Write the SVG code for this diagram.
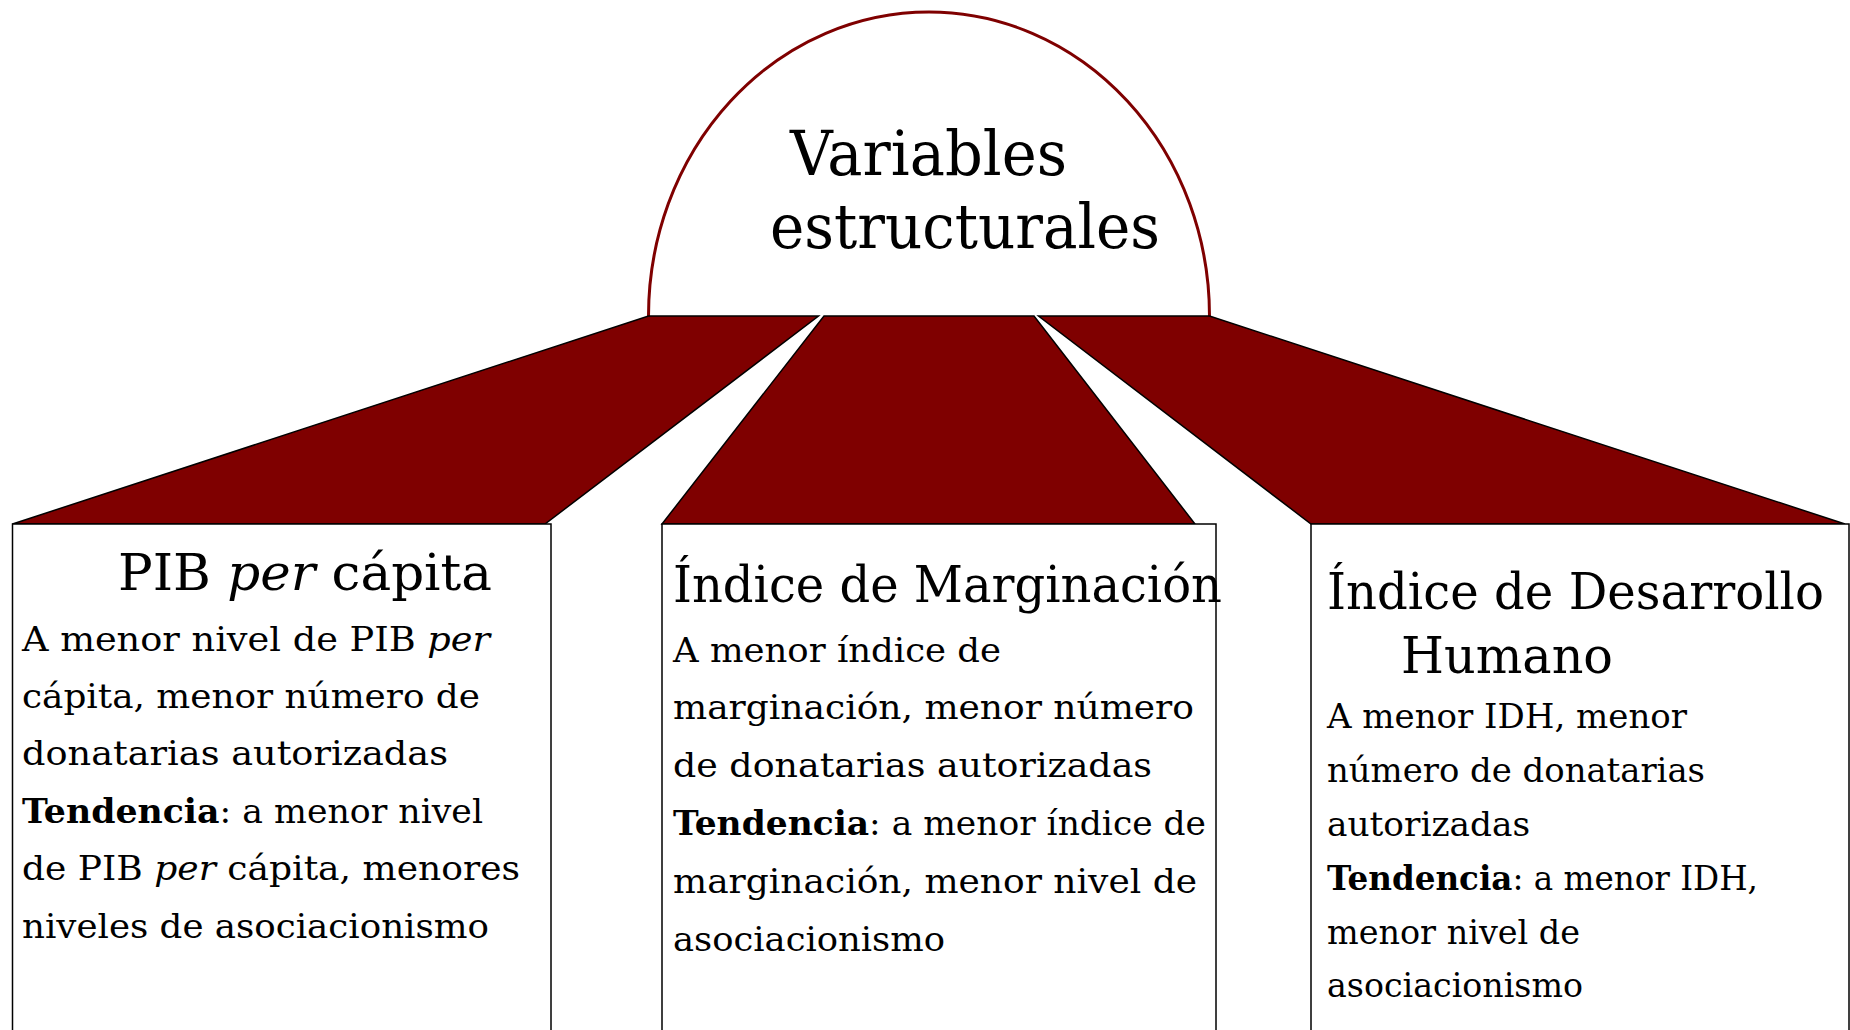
<svg xmlns="http://www.w3.org/2000/svg" width="1850" height="1030" viewBox="0 0 1850 1030">
<style>
.t{font-family:"DejaVu Serif","Liberation Serif",serif;fill:#000}
.ttl{font-size:50px}
.main{font-size:62px}
.b1{font-size:34px}
.b2{font-size:33px}
.box{fill:#fff;stroke:#000;stroke-width:1.5}
.trap{fill:#7f0000;stroke:#000;stroke-width:1.5;stroke-linejoin:miter}
.i{font-style:italic}
.bd{font-weight:bold}
</style>
<rect width="1850" height="1030" fill="#fff"/>
<g id="root">
<path d="M648.5,316 A280.5,304 0 0 1 1209.5,316" fill="#fff" stroke="#7f0000" stroke-width="3"/>
<text class="t main" x="790" y="175" textLength="277" lengthAdjust="spacingAndGlyphs">Variables</text>
<text class="t main" x="770" y="248" textLength="390" lengthAdjust="spacingAndGlyphs">estructurales</text>
</g>
<g id="connectors">
<polygon class="trap" points="648.5,316 818.5,316 545,524 12.5,524"/>
<polygon class="trap" points="824,316 1034,316 1195,524 662,524"/>
<polygon class="trap" points="1038.5,316 1209.5,316 1845,524 1311,524"/>
</g>
<g id="node-pib">
<rect class="box" x="12.5" y="524" width="538.5" height="560"/>
<text class="t ttl" x="118" y="590" textLength="374" lengthAdjust="spacingAndGlyphs">PIB <tspan class="i">per</tspan> cápita</text>
<text class="t b1" x="22" y="651" textLength="468" lengthAdjust="spacingAndGlyphs">A menor nivel de PIB <tspan class="i">per</tspan></text>
<text class="t b1" x="22" y="708" textLength="458" lengthAdjust="spacingAndGlyphs">cápita, menor número de</text>
<text class="t b1" x="22" y="765" textLength="426" lengthAdjust="spacingAndGlyphs">donatarias autorizadas</text>
<text class="t b1" x="22" y="822.5" textLength="461" lengthAdjust="spacingAndGlyphs"><tspan class="bd">Tendencia</tspan>: a menor nivel</text>
<text class="t b1" x="22" y="880" textLength="498" lengthAdjust="spacingAndGlyphs">de PIB <tspan class="i">per</tspan> cápita, menores</text>
<text class="t b1" x="22" y="938" textLength="467" lengthAdjust="spacingAndGlyphs">niveles de asociacionismo</text>
</g>
<g id="node-marginacion">
<rect class="box" x="662" y="524" width="554" height="560"/>
<text class="t ttl" x="673" y="602" textLength="549" lengthAdjust="spacingAndGlyphs">Índice de Marginación</text>
<text class="t b1" x="673" y="662" textLength="328" lengthAdjust="spacingAndGlyphs">A menor índice de</text>
<text class="t b1" x="673" y="719" textLength="521" lengthAdjust="spacingAndGlyphs">marginación, menor número</text>
<text class="t b1" x="673" y="777" textLength="479" lengthAdjust="spacingAndGlyphs">de donatarias autorizadas</text>
<text class="t b1" x="673" y="835" textLength="533" lengthAdjust="spacingAndGlyphs"><tspan class="bd">Tendencia</tspan>: a menor índice de</text>
<text class="t b1" x="673" y="893" textLength="524" lengthAdjust="spacingAndGlyphs">marginación, menor nivel de</text>
<text class="t b1" x="673" y="950.5" textLength="272" lengthAdjust="spacingAndGlyphs">asociacionismo</text>
</g>
<g id="node-idh">
<rect class="box" x="1311" y="524" width="538" height="560"/>
<text class="t ttl" x="1327" y="609" textLength="497" lengthAdjust="spacingAndGlyphs">Índice de Desarrollo</text>
<text class="t ttl" x="1401" y="672.5" textLength="212" lengthAdjust="spacingAndGlyphs">Humano</text>
<text class="t b2" x="1327" y="728" textLength="360" lengthAdjust="spacingAndGlyphs">A menor IDH, menor</text>
<text class="t b2" x="1327" y="782" textLength="378" lengthAdjust="spacingAndGlyphs">número de donatarias</text>
<text class="t b2" x="1327" y="836" textLength="203" lengthAdjust="spacingAndGlyphs">autorizadas</text>
<text class="t b2" x="1327" y="890" textLength="431" lengthAdjust="spacingAndGlyphs"><tspan class="bd">Tendencia</tspan>: a menor IDH,</text>
<text class="t b2" x="1327" y="944" textLength="253" lengthAdjust="spacingAndGlyphs">menor nivel de</text>
<text class="t b2" x="1327" y="997" textLength="256" lengthAdjust="spacingAndGlyphs">asociacionismo</text>
</g>
</svg>
